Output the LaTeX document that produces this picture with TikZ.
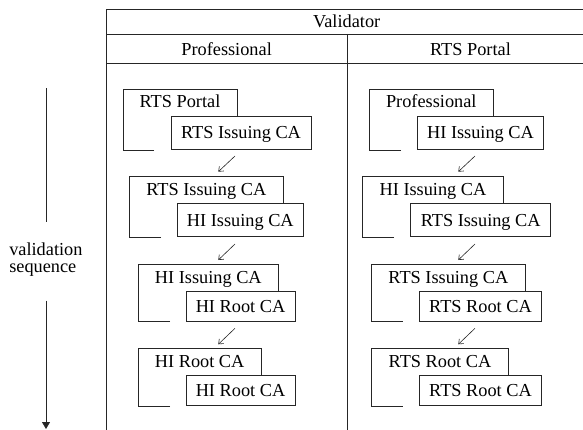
\documentclass[tikz,border=0pt]{standalone}
\usepackage{fontspec}
\setmainfont{Liberation Serif}
\usetikzlibrary{arrows.meta,calc}
\tikzset{
  lbl/.style={font=\fontsize{18.3}{17.5}\selectfont, inner sep=0pt, outer sep=0pt, text height=12.1pt, text depth=0pt},
  frontbox/.style={lbl, draw=black!85, fill=white, line width=0.8pt},
  outline/.style={draw=black!85, line width=0.8pt},
  smallarrow/.style={draw=black!85, line width=0.6pt, -{Straight Barb[length=4pt,width=6.5pt]}},
  bigarrow/.style={draw=black!85, line width=0.8pt, -{Triangle[length=7pt,width=8pt]}},
}
% \cardfront{id}{left}{top}{right}{bottom}{text}
\newcommand{\cardfront}[6]{%
  \node[frontbox, anchor=north west, minimum width={(#4-#2)*1pt}, minimum height={(#5-#3)*1pt}] (#1f) at (#2,#3) {#6};}
% \cardback{id}{left}{top}{right}{bottom}{line end}{text}
\newcommand{\cardback}[7]{%
  \coordinate (#1ne) at (#4,#3);
  \coordinate (#1le) at (#6,#5);
  \draw[outline] (#1le) -- (#2,#5) -- (#2,#3) -- (#1ne) -- (#1ne |- #1f.north);
  \node[lbl] (#1b) at ({(#2+#4)/2},{#3+12.8}) {#7};}
\begin{document}
\begin{tikzpicture}[x=1pt,y=-1pt]
\useasboundingbox (0,0) rectangle (583,430);
% table
\coordinate (tTL) at (106,9);
\coordinate (tTR) at (583,9);
\coordinate (tBL) at (106,430);
\coordinate (tM1) at (347,34);
\coordinate (tM2) at (347,430);
\draw[outline] (tTR) -- (tTL) -- (tBL);
\draw[outline] (106,34) -- (583,34);
\draw[outline] (106,63) -- (583,63);
\draw[outline] (tM1) -- (tM2);
\node[lbl] (hval) at (346.7,21.5) {Validator};
\node[lbl] (hpro) at (226.6,49) {Professional};
\node[lbl] (hrts) at (470.5,49) {RTS Portal};
% left column
\cardfront{L1}{171}{116}{311}{149.3}{RTS Issuing CA}
\cardback{L1}{123}{89}{237}{150}{154}{RTS Portal}
\cardfront{L2}{177.3}{203.3}{303.3}{236.7}{HI Issuing CA}
\cardback{L2}{129.3}{176.7}{283.3}{237.7}{161}{RTS Issuing CA}
\cardfront{L3}{186}{291.7}{295}{321}{HI Root CA}
\cardback{L3}{138.3}{264.3}{278.3}{321.7}{170}{HI Issuing CA}
\cardfront{L4}{186}{375}{295}{405.7}{HI Root CA}
\cardback{L4}{138.3}{348.3}{261}{406}{170}{HI Root CA}
% right column
\cardfront{R1}{417.7}{116}{543.3}{149.3}{HI Issuing CA}
\cardback{R1}{369.3}{89}{493.3}{150}{401}{Professional}
\cardfront{R2}{410.7}{203.3}{550.7}{236.7}{RTS Issuing CA}
\cardback{R2}{362.7}{176.7}{503.3}{237.7}{394}{HI Issuing CA}
\cardfront{R3}{419.3}{291.7}{541.7}{321}{RTS Root CA}
\cardback{R3}{371.7}{264.3}{525}{321.7}{402.7}{RTS Issuing CA}
\cardfront{R4}{419.3}{375}{541.7}{405.7}{RTS Root CA}
\cardback{R4}{371.7}{348.3}{508.3}{406}{402.7}{RTS Root CA}
% small arrows
\coordinate (aL1s) at (235,156);   \coordinate (aL1e) at (218.3,171.7);
\coordinate (aL2s) at (235,244);   \coordinate (aL2e) at (218.3,260);
\coordinate (aL3s) at (235,328.3); \coordinate (aL3e) at (218.3,344.3);
\coordinate (aR1s) at (475,156);   \coordinate (aR1e) at (458.3,171.7);
\coordinate (aR2s) at (475,244);   \coordinate (aR2e) at (458.3,260);
\coordinate (aR3s) at (475,328.3); \coordinate (aR3e) at (458.3,344.3);
\foreach \a in {L1,L2,L3,R1,R2,R3} \draw[smallarrow] (a\a s) -- (a\a e);
% validation sequence
\node[lbl, text height=, text depth=, align=left, anchor=west] (vs) at (9.3,259.5) {validation\\sequence};
\coordinate (vTop) at (46,88.3);
\coordinate (vUp) at (46,221.7);
\coordinate (vLo) at (46,300.7);
\coordinate (vBot) at (46,429);
\draw[outline] (vTop) -- (vUp);
\draw[bigarrow] (vLo) -- (vBot);
\end{tikzpicture}
\end{document}
